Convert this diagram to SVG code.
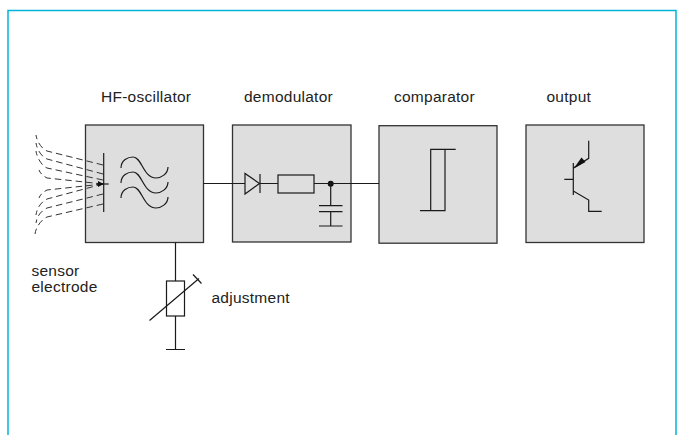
<svg xmlns="http://www.w3.org/2000/svg" width="678" height="435" viewBox="0 0 678 435">
<style>
.box{fill:#dedede;stroke:#333;stroke-width:1.3}
.ln{fill:none;stroke:#1a1a1a;stroke-width:1.200}
.ds{fill:none;stroke:#333;stroke-width:1;stroke-dasharray:6.500 4}
text{font-family:"Liberation Sans",Arial,sans-serif;font-size:15.500px;letter-spacing:.25px;fill:#222}
</style>
<rect width="678" height="435" fill="#fff"/>
<path id="frame" d="M8,435V10.500H676V435" fill="none" stroke="#00b4d8" stroke-width="1.500"/>
<g id="hf-oscillator">
<rect class="box" x="85.500" y="125" width="118" height="117.500"/>
<path class="ln" d="M103.700,153V212"/>
<path class="ln" d="M121,168C121,160 128,157 133,157C142,157 143,178 156,178C161,178 168,174 168,167"/>
<path class="ln" d="M121,183C121,175 128,172 133,172C142,172 143,193 156,193C161,193 168,189 168,182"/>
<path class="ln" d="M121,198C121,190 128,187 133,187C142,187 143,208 156,208C161,208 168,204 168,197"/>
<text x="101" y="101.500">HF-oscillator</text>
</g>
<g id="demodulator">
<rect class="box" x="232.500" y="125" width="118.500" height="117"/>
<path class="ln" d="M245,173.500V194L259.500,183.500Z"/>
<path class="ln" d="M260,174V193"/>
<rect class="ln" x="278" y="175" width="36" height="18"/>
<circle cx="330.700" cy="183.700" r="3" fill="#111"/>
<path class="ln" d="M330.700,184V205.700M319,205.700H342.500M319,211.700H342.500M330.700,211.700V226M319,226H342.500"/>
<text x="244" y="101.500">demodulator</text>
</g>
<g id="comparator">
<rect class="box" x="379" y="125.700" width="118" height="117.500"/>
<path class="ln" d="M420,210.700H445V149.300M455.700,149.300H430.700V210.700"/>
<text x="394" y="101.500">comparator</text>
</g>
<g id="output">
<rect class="box" x="526" y="125" width="118" height="117.500"/>
<path class="ln" d="M573.300,163V195M564.300,179.300H573.300M573.300,168L588.700,158.300V140.700M573.300,191L588.700,200V211.300H601.700"/>
<path d="M573.500,168.700L581.500,157.500L585.500,162Z" fill="#111"/>
<text x="546.500" y="101.500">output</text>
</g>
<g id="sensor-electrode">
<path class="ds" d="M103,165L47,151C42,149 37,142 36,135"/>
<path class="ds" d="M103,174L47,159C42,157 37,150 36,143"/>
<path class="ds" d="M103,180L47,168C42,166 37,158 36,151"/>
<path class="ds" d="M103,184L47,178C43,176 40,173 39,170"/>
<path class="ds" d="M103,184L47,190C43,192 40,195 39,198"/>
<path class="ds" d="M103,184L47,199C41,202 37,208 36,215"/>
<path class="ds" d="M103,194L47,208C41,211 37,216 36,223"/>
<path class="ds" d="M103,204L47,217C41,220 36,227 35,234"/>
<path class="ln" d="M96,184H108.700"/>
<path d="M103.700,184L98,181V187Z" fill="#111"/>
<text x="31.500" y="276">sensor</text>
<text x="31.500" y="291.500">electrode</text>
</g>
<g id="adjustment">
<rect class="ln" x="166.500" y="281" width="18" height="35"/>
<path class="ln" d="M149.500,320.500L199,278.500M193,274.500L201.500,283.500M166,349.500H185"/>
<text x="211.500" y="303">adjustment</text>
</g>
<g id="connectors">
<path class="ln" d="M203.500,183.500H245M260,183.500H278M314,183.500H379M175.500,242.500V281M175.500,316V349.500"/>
</g>
</svg>
